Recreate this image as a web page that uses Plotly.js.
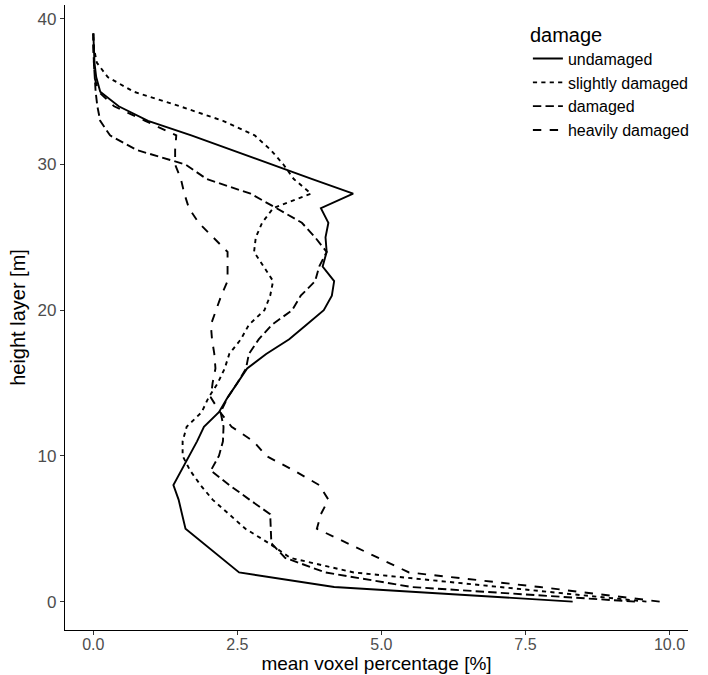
<!DOCTYPE html>
<html>
<head>
<meta charset="utf-8">
<script src="https://cdn.plot.ly/plotly-3.0.1.min.js"></script>
<style>
  html, body { margin: 0; padding: 0; background: #ffffff; }
  #chart { width: 708px; height: 675px; }
</style>
</head>
<body>
<div id="chart"></div>
<script>
// height layers [m]
const heights = [0,1,2,3,4,5,6,7,8,9,10,11,12,13,14,15,16,17,18,19,20,21,22,23,24,25,26,27,28,29,30,31,32,33,34,35,36,37,38,39];

// mean voxel percentage [%] per height layer
const undamaged = [8.32,4.18,2.53,2.22,1.90,1.60,1.54,1.48,1.39,1.53,
                   1.66,1.80,1.92,2.18,2.33,2.50,2.67,3.00,3.40,3.70,
                   4.00,4.14,4.18,3.98,4.05,4.03,4.08,3.95,4.51,3.80,
                   3.10,2.40,1.70,0.95,0.44,0.12,0.05,0.02,0.01,0.00];
const slightlyDamaged = [9.60,7.10,4.52,3.42,3.05,2.64,2.36,2.07,1.86,1.68,
                         1.55,1.55,1.62,1.88,2.00,2.16,2.28,2.36,2.56,2.70,
                         2.97,3.07,3.12,2.95,2.79,2.82,2.93,3.12,3.78,3.48,
                         3.30,3.08,2.80,2.25,1.50,0.70,0.25,0.06,0.01,0.00];
const damaged = [9.40,5.53,4.03,3.33,3.09,3.08,3.07,2.71,2.36,2.04,
                 2.18,2.25,2.26,2.21,2.33,2.50,2.65,2.70,2.87,3.10,
                 3.45,3.60,3.85,3.92,4.05,3.85,3.62,3.18,2.73,1.97,
                 1.60,0.75,0.29,0.12,0.07,0.04,0.02,0.01,0.00,0.00];
const heavilyDamaged = [9.83,7.75,5.48,4.95,4.40,3.88,3.95,4.08,3.92,3.48,
                        3.00,2.78,2.40,2.20,2.04,2.07,2.12,2.10,2.06,2.04,
                        2.13,2.22,2.33,2.33,2.33,2.08,1.83,1.66,1.58,1.52,
                        1.42,1.42,1.44,0.90,0.36,0.09,0.02,0.01,0.00,0.00];

const seriesNames = ["undamaged", "slightly damaged", "damaged", "heavily damaged"];
const seriesValues = [undamaged, slightlyDamaged, damaged, heavilyDamaged];
const seriesDash = ["solid", "4.2px,4.2px", "8.4px,4.2px", "8.4px,8.4px"];

const xTickVals = [0, 2.5, 5, 7.5, 10];
const xTickText = ["0.0", "2.5", "5.0", "7.5", "10.0"];
const yTickVals = [0, 10, 20, 30, 40];

const traces = seriesNames.map((name, i) => ({
  type: "scatter",
  mode: "lines",
  name: name,
  x: seriesValues[i],
  y: heights,
  line: { color: "#000000", width: 1.9, dash: seriesDash[i] }
}));

// ggplot-like 5% expansion
const allX = [].concat(...seriesValues);
const xMin = Math.min(...allX), xMax = Math.max(...allX);
const xPad = (xMax - xMin) * 0.05;
const yMin = Math.min(...heights), yMax = Math.max(...heights);
const yPad = (yMax - yMin) * 0.05;

const textFont = "'Liberation Sans', Arial, sans-serif";

const layout = {
  width: 708,
  height: 675,
  margin: { l: 65, r: 20, t: 5, b: 45 },
  paper_bgcolor: "#ffffff",
  plot_bgcolor: "#ffffff",
  showlegend: true,
  xaxis: {
    range: [xMin - xPad, xMax + xPad],
    tickvals: xTickVals,
    ticktext: xTickText,
    showline: true, linecolor: "#000000", linewidth: 1.1,
    ticks: "outside", ticklen: 4, tickwidth: 1, tickcolor: "#333333",
    ticklabelstandoff: -4,
    showgrid: false, zeroline: false,
    tickfont: { family: textFont, size: 16, color: "#4d4d4d" },
    title: { text: "mean voxel percentage [%]", font: { family: textFont, size: 19, color: "#000000" }, standoff: 0 }
  },
  yaxis: {
    range: [yMin - yPad, yMax + yPad],
    tickvals: yTickVals,
    showline: true, linecolor: "#000000", linewidth: 1.1,
    ticks: "outside", ticklen: 4, tickwidth: 1, tickcolor: "#333333",
    showgrid: false, zeroline: false,
    tickfont: { family: textFont, size: 17, color: "#4d4d4d" },
    title: { text: "height layer [m]", font: { family: textFont, size: 20, color: "#000000" }, standoff: 6 }
  },
  legend: {
    x: 0.743, y: 0.983, xanchor: "left", yanchor: "top",
    bgcolor: "rgba(255,255,255,0)",
    font: { family: textFont, size: 16, color: "#000000" },
    title: { text: "damage", font: { family: textFont, size: 20, color: "#000000" } },
    itemwidth: 30,
    tracegroupgap: 0
  }
};

Plotly.newPlot("chart", traces, layout, { displayModeBar: false, staticPlot: true });
</script>
</body>
</html>
